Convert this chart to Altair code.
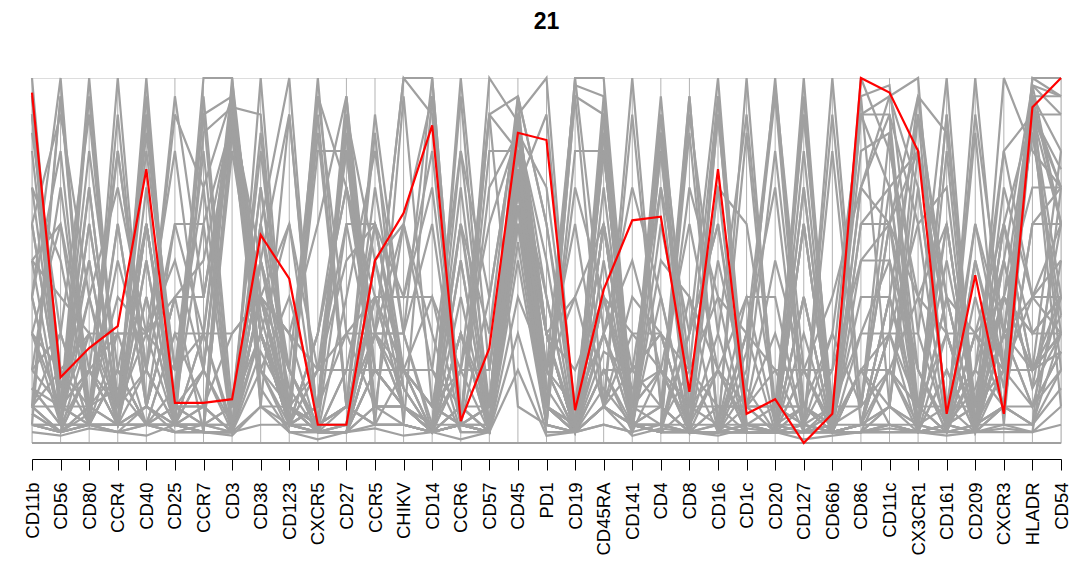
import altair as alt
import pandas as pd

markers = ["CD11b", "CD56", "CD80", "CCR4", "CD40", "CD25", "CCR7", "CD3", "CD38", "CD123",
           "CXCR5", "CD27", "CCR5", "CHIKV", "CD14", "CCR6", "CD57", "CD45", "PD1", "CD19",
           "CD45RA", "CD141", "CD4", "CD8", "CD16", "CD1c", "CD20", "CD127", "CD66b", "CD86",
           "CD11c", "CX3CR1", "CD161", "CD209", "CXCR3", "HLADR", "CD54"]

# highlighted cluster 21 (percent of column range)
cluster21 = [96, 18, 26, 32, 75, 11, 11, 12, 57, 45, 5, 5, 50, 63, 87, 6, 26, 85, 83, 9,
             42, 61, 62, 14, 75, 8, 12, 0, 8, 100, 96, 80, 8, 46, 8, 92, 100]

# other clusters (percent of column range)
c01 = [5, 3, 5, 20, 5, 15, 90, 95, 40, 5, 10, 90, 5, 5, 3, 10, 3, 70, 10, 3, 90, 5, 90, 3, 3, 3, 3, 80, 3, 3, 3, 3, 5, 3, 10, 5, 20]
c02 = [8, 3, 8, 60, 10, 40, 50, 90, 30, 5, 30, 70, 30, 10, 3, 60, 10, 75, 40, 3, 15, 5, 85, 3, 3, 5, 3, 70, 3, 5, 10, 5, 40, 5, 50, 15, 30]
c03 = [5, 5, 5, 5, 5, 5, 85, 92, 35, 5, 5, 85, 5, 5, 3, 5, 3, 70, 5, 3, 95, 5, 3, 95, 3, 3, 3, 60, 3, 3, 3, 3, 5, 3, 10, 5, 15]
c04 = [30, 20, 10, 5, 10, 3, 5, 88, 20, 5, 3, 10, 70, 20, 3, 5, 90, 80, 20, 3, 80, 5, 3, 90, 30, 3, 3, 10, 3, 5, 30, 95, 30, 5, 60, 20, 35]
c05 = [10, 10, 10, 15, 5, 5, 30, 90, 50, 5, 5, 60, 60, 15, 3, 20, 20, 85, 50, 3, 20, 5, 5, 85, 5, 3, 3, 40, 3, 5, 20, 40, 60, 5, 70, 40, 40]
c06 = [10, 3, 10, 80, 20, 95, 40, 85, 40, 5, 20, 60, 20, 10, 3, 30, 3, 75, 30, 3, 10, 5, 80, 3, 3, 3, 3, 5, 3, 5, 5, 3, 20, 3, 30, 40, 30]
c07 = [5, 3, 10, 40, 30, 40, 40, 90, 30, 5, 95, 70, 20, 10, 3, 30, 5, 70, 90, 3, 10, 5, 80, 3, 3, 3, 3, 40, 3, 5, 5, 3, 30, 3, 30, 20, 25]
c08 = [40, 100, 5, 5, 5, 30, 10, 3, 70, 10, 5, 10, 40, 20, 3, 10, 3, 80, 10, 3, 60, 5, 3, 10, 20, 5, 3, 20, 3, 5, 40, 10, 60, 5, 50, 15, 60]
c09 = [50, 60, 5, 3, 5, 5, 3, 3, 60, 5, 3, 3, 30, 15, 3, 5, 70, 85, 20, 3, 70, 5, 3, 30, 100, 3, 3, 3, 3, 5, 40, 90, 40, 5, 30, 10, 40]
c10 = [10, 3, 20, 5, 60, 10, 80, 3, 30, 10, 85, 10, 5, 5, 3, 50, 3, 65, 5, 95, 90, 5, 3, 3, 3, 20, 100, 10, 3, 30, 30, 3, 5, 10, 20, 90, 40]
c11 = [15, 5, 40, 10, 80, 20, 70, 3, 25, 10, 80, 80, 10, 10, 3, 60, 3, 65, 10, 100, 30, 5, 3, 3, 3, 25, 95, 5, 3, 50, 50, 3, 5, 15, 40, 95, 60]
c12 = [5, 3, 30, 5, 40, 5, 5, 3, 100, 5, 10, 95, 10, 10, 3, 5, 3, 40, 20, 60, 10, 5, 3, 3, 3, 10, 20, 3, 3, 20, 10, 3, 3, 5, 10, 60, 70]
c13 = [95, 10, 40, 5, 50, 5, 3, 3, 60, 20, 3, 3, 30, 30, 100, 5, 3, 85, 10, 3, 20, 20, 30, 3, 10, 10, 3, 3, 10, 80, 85, 20, 3, 40, 10, 90, 90]
c14 = [90, 20, 30, 5, 40, 5, 3, 3, 40, 10, 3, 3, 20, 20, 40, 5, 10, 90, 10, 3, 40, 15, 20, 3, 95, 10, 3, 3, 5, 70, 95, 100, 3, 30, 20, 95, 95]
c15 = [95, 15, 50, 5, 60, 5, 3, 3, 50, 15, 3, 3, 40, 40, 80, 5, 3, 88, 15, 3, 25, 20, 30, 3, 50, 15, 3, 3, 8, 90, 90, 60, 3, 50, 15, 100, 100]
c16 = [50, 5, 60, 10, 60, 10, 10, 3, 40, 30, 3, 3, 20, 20, 10, 20, 3, 75, 10, 3, 10, 30, 20, 3, 3, 100, 5, 3, 3, 70, 90, 10, 3, 30, 10, 92, 70]
c17 = [30, 5, 50, 5, 50, 5, 10, 3, 50, 20, 3, 3, 20, 10, 5, 5, 3, 70, 10, 3, 10, 100, 10, 3, 3, 30, 3, 3, 3, 60, 70, 5, 3, 20, 80, 90, 60]
c18 = [5, 5, 20, 5, 20, 5, 30, 3, 60, 100, 3, 3, 10, 10, 3, 5, 3, 60, 10, 5, 80, 5, 40, 3, 3, 5, 5, 5, 3, 20, 5, 3, 3, 60, 30, 85, 30]
c19 = [100, 10, 5, 3, 10, 5, 3, 3, 10, 10, 3, 3, 10, 60, 30, 3, 3, 50, 5, 3, 40, 5, 10, 3, 90, 3, 3, 3, 100, 10, 60, 20, 3, 5, 5, 5, 70]
c20 = [40, 5, 5, 5, 10, 40, 3, 3, 50, 90, 3, 3, 30, 10, 3, 5, 3, 55, 5, 3, 60, 5, 5, 3, 5, 3, 3, 30, 3, 3, 20, 5, 40, 5, 10, 5, 30]
c21 = [20, 30, 5, 30, 5, 5, 5, 100, 10, 5, 3, 40, 80, 30, 3, 100, 20, 85, 30, 3, 30, 5, 3, 40, 20, 3, 3, 40, 3, 5, 30, 30, 100, 3, 60, 20, 40]
c22 = [40, 80, 5, 5, 5, 5, 5, 80, 30, 5, 3, 20, 60, 15, 3, 20, 60, 85, 30, 3, 50, 5, 10, 70, 40, 3, 3, 20, 3, 5, 30, 60, 70, 5, 60, 30, 40]
c23 = [30, 10, 30, 10, 30, 5, 10, 30, 40, 5, 10, 30, 30, 100, 90, 10, 10, 60, 20, 10, 30, 10, 20, 10, 10, 10, 10, 10, 5, 20, 30, 10, 10, 10, 20, 40, 50]
c24 = [80, 10, 70, 5, 70, 5, 5, 3, 40, 10, 3, 3, 30, 30, 60, 5, 3, 80, 20, 3, 10, 40, 30, 3, 20, 40, 5, 3, 5, 100, 80, 40, 3, 100, 20, 100, 95]
c25 = [3, 2, 4, 3, 2, 5, 3, 2, 10, 3, 1, 3, 4, 2, 3, 1, 3, 20, 2, 3, 10, 2, 4, 3, 2, 4, 3, 1, 2, 3, 4, 3, 2, 3, 4, 3, 5]
c26 = [15, 10, 20, 30, 30, 50, 20, 92, 90, 5, 20, 50, 60, 20, 3, 30, 10, 90, 100, 3, 10, 5, 50, 40, 3, 5, 3, 10, 3, 20, 20, 10, 30, 5, 100, 80, 70]
c27 = [20, 10, 5, 5, 5, 3, 3, 85, 20, 3, 3, 5, 40, 10, 3, 5, 80, 80, 30, 3, 90, 3, 70, 3, 10, 3, 3, 5, 3, 3, 10, 70, 10, 3, 40, 20, 30]
c28 = [8, 3, 5, 100, 10, 60, 60, 88, 30, 5, 30, 80, 10, 5, 3, 30, 3, 72, 30, 3, 5, 3, 85, 3, 3, 3, 3, 60, 3, 3, 5, 3, 20, 3, 10, 10, 25]
c29 = [10, 3, 5, 60, 10, 40, 40, 88, 30, 5, 30, 70, 40, 10, 3, 95, 3, 72, 30, 3, 5, 3, 85, 3, 3, 3, 3, 60, 3, 3, 5, 3, 80, 3, 30, 10, 25]
c30 = [60, 10, 100, 10, 90, 10, 10, 3, 50, 20, 5, 10, 30, 20, 20, 10, 3, 75, 20, 40, 10, 20, 10, 3, 5, 40, 40, 3, 3, 90, 70, 10, 3, 50, 20, 95, 80]
c31 = [40, 5, 70, 5, 100, 5, 20, 3, 40, 10, 20, 20, 20, 20, 10, 5, 3, 70, 10, 70, 40, 10, 10, 3, 3, 30, 70, 3, 3, 60, 60, 5, 3, 30, 20, 90, 75]
c32 = [70, 50, 10, 5, 10, 5, 5, 10, 30, 10, 3, 5, 40, 20, 10, 5, 40, 90, 10, 3, 60, 5, 5, 30, 60, 5, 3, 5, 30, 10, 70, 80, 30, 5, 20, 20, 80]
c33 = [10, 30, 5, 5, 5, 3, 3, 85, 15, 3, 3, 5, 50, 10, 3, 5, 100, 88, 40, 3, 60, 3, 20, 60, 20, 3, 3, 3, 3, 3, 10, 80, 30, 3, 40, 20, 30]
c34 = [10, 20, 5, 20, 5, 30, 30, 5, 30, 10, 3, 20, 20, 10, 3, 50, 3, 75, 10, 3, 40, 5, 5, 3, 3, 3, 3, 100, 3, 3, 5, 5, 90, 3, 20, 10, 20]
c35 = [10, 3, 20, 5, 60, 10, 60, 3, 20, 10, 100, 10, 5, 5, 3, 40, 3, 60, 5, 80, 80, 5, 3, 3, 3, 15, 80, 10, 3, 20, 20, 3, 5, 10, 30, 85, 35]
c36 = [90, 5, 5, 3, 5, 3, 3, 3, 5, 5, 3, 3, 5, 20, 20, 3, 3, 30, 3, 3, 20, 3, 5, 3, 70, 3, 3, 3, 80, 5, 40, 10, 3, 3, 3, 3, 50]
c37 = [5, 3, 5, 20, 5, 10, 100, 100, 30, 5, 10, 90, 5, 5, 3, 10, 3, 65, 5, 3, 85, 3, 60, 20, 3, 3, 3, 70, 3, 3, 3, 3, 5, 3, 5, 3, 10]
c38 = [60, 10, 20, 10, 20, 5, 5, 5, 30, 10, 5, 10, 30, 100, 100, 5, 5, 70, 10, 100, 100, 10, 20, 5, 20, 10, 30, 5, 10, 30, 50, 20, 5, 20, 10, 60, 60]
c39 = [0, 0, 0, 0, 0, 0, 0, 0, 0, 0, 0, 0, 0, 0, 0, 0, 0, 0, 0, 0, 0, 0, 0, 0, 0, 0, 0, 0, 0, 0, 0, 0, 0, 0, 0, 0, 0]
c40 = [10, 95, 5, 90, 10, 5, 20, 95, 10, 90, 5, 10, 85, 5, 95, 5, 10, 95, 10, 5, 90, 5, 85, 5, 90, 5, 10, 5, 90, 10, 85, 5, 90, 5, 10, 95, 20]
c41 = [90, 5, 95, 10, 90, 5, 95, 10, 85, 5, 90, 10, 5, 95, 10, 5, 90, 10, 5, 95, 10, 90, 10, 95, 5, 85, 5, 90, 5, 95, 10, 90, 5, 85, 5, 90, 10]
c42 = [60, 90, 40, 70, 30, 80, 20, 90, 30, 60, 20, 80, 30, 60, 20, 80, 40, 90, 30, 40, 60, 20, 70, 30, 60, 10, 50, 20, 40, 70, 60, 80, 40, 30, 60, 90, 70]
c43 = [20, 70, 10, 50, 20, 60, 30, 98, 20, 40, 10, 90, 50, 20, 10, 60, 30, 95, 60, 10, 80, 10, 90, 20, 10, 10, 10, 90, 10, 10, 20, 10, 50, 10, 40, 30, 30]
c44 = [70, 10, 80, 20, 60, 10, 20, 5, 70, 20, 5, 5, 60, 40, 70, 5, 10, 90, 30, 5, 30, 50, 20, 10, 70, 60, 10, 10, 30, 90, 95, 70, 10, 60, 20, 98, 95]
c45 = [5, 95, 10, 20, 5, 10, 5, 10, 80, 10, 5, 10, 90, 30, 5, 20, 90, 95, 60, 5, 85, 5, 5, 20, 95, 5, 5, 10, 5, 10, 60, 95, 85, 10, 80, 40, 60]
c46 = [85, 30, 90, 10, 95, 10, 5, 5, 40, 60, 5, 5, 50, 60, 95, 5, 5, 80, 10, 5, 30, 70, 40, 5, 30, 90, 10, 5, 20, 95, 98, 30, 5, 90, 30, 98, 90]
c47 = [30, 60, 20, 80, 20, 90, 70, 95, 40, 30, 60, 95, 20, 10, 5, 80, 10, 85, 70, 10, 40, 10, 95, 10, 5, 5, 5, 95, 5, 5, 10, 5, 60, 5, 40, 30, 40]
c48 = [15, 5, 60, 10, 85, 20, 90, 5, 40, 20, 95, 30, 10, 10, 5, 70, 5, 70, 20, 98, 95, 10, 5, 5, 5, 30, 98, 20, 5, 40, 40, 5, 10, 20, 50, 98, 60]
c49 = [50, 40, 30, 30, 30, 20, 30, 30, 40, 30, 20, 30, 40, 40, 40, 20, 20, 70, 30, 20, 40, 30, 30, 20, 40, 30, 20, 20, 20, 50, 60, 40, 30, 30, 40, 70, 70]

others = [c01, c02, c03, c04, c05, c06, c07, c08, c09, c10, c11, c12, c13, c14, c15, c16, c17, c18, c19, c20,
          c21, c22, c23, c24, c25, c26, c27, c28, c29, c30, c31, c32, c33, c34, c35, c36, c37, c38, c39, c40,
          c41, c42, c43, c44, c45, c46, c47, c48, c49]

rows = []
for gi, vals in enumerate(others):
    for i, (m, v) in enumerate(zip(markers, vals)):
        rows.append({"line": f"c{gi}", "marker": m, "idx": i, "value": v / 100})
grey_df = pd.DataFrame(rows)
red_df = pd.DataFrame({"marker": markers, "idx": list(range(len(markers))),
                       "value": [v / 100 for v in cluster21]})
axes_df = pd.DataFrame({"marker": markers, "lo": [0.0] * len(markers), "hi": [1.0] * len(markers)})

x_enc = alt.X("marker:N", sort=markers,
              scale=alt.Scale(type="point", padding=0),
              axis=alt.Axis(title=None, labelAngle=270, labelAlign="right", labelBaseline="middle",
                            labelFontSize=18.5, labelFont="Liberation Sans", labelColor="black",
                            domainColor="black", domainWidth=1, tickColor="black", tickSize=11,
                            tickWidth=1, labelPadding=12, offset=16, grid=False, labelOverlap=False))
y_scale = alt.Scale(domain=[0, 1], nice=False, zero=False)

rules = alt.Chart(axes_df).mark_rule(color="#b3b3b3", strokeWidth=1).encode(
    x=x_enc, y=alt.Y("lo:Q", scale=y_scale, axis=None), y2="hi:Q")

grey = alt.Chart(grey_df).mark_line(color="#a0a0a0", strokeWidth=2.2).encode(
    x=x_enc, y=alt.Y("value:Q", scale=y_scale, axis=None), detail="line:N", order="idx:Q")

red = alt.Chart(red_df).mark_line(color="#ff0000", strokeWidth=2.2).encode(
    x=x_enc, y=alt.Y("value:Q", scale=y_scale, axis=None), order="idx:Q")

chart = alt.layer(rules, grey, red).properties(
    width=1029, height=365,
    title=alt.TitleParams("21", fontSize=23, fontWeight="bold", font="Liberation Sans",
                          anchor="middle", frame="group", offset=40, color="black"),
    autosize=alt.AutoSizeParams(type="none"),
    padding={"left": 24, "top": 70, "right": 17, "bottom": 114},
).configure_view(stroke=None).configure(background="white")

chart.save("out.html", embed_options={"renderer": "svg", "actions": False})
